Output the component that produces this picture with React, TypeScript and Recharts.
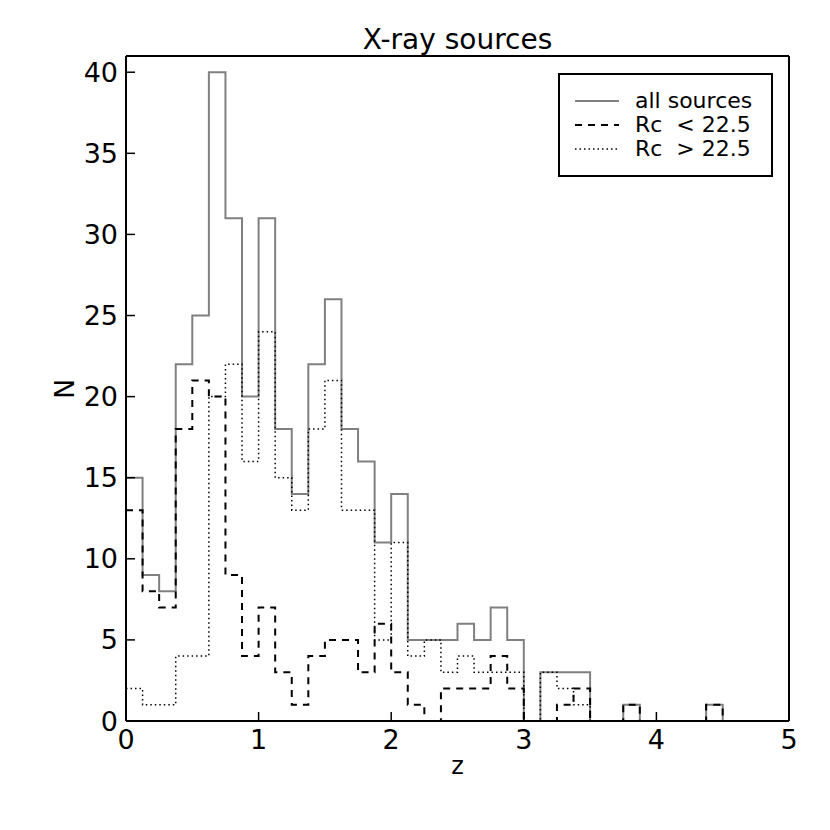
import React from "react";
import { LineChart, Line, XAxis, YAxis, Legend } from "recharts";

// bin edges of the z histogram (bin width 0.125)
const binEdges = [
  0, 0.125, 0.25, 0.375, 0.5, 0.625, 0.75, 0.875, 1, 1.125, 1.25, 1.375, 1.5, 1.625,
  1.75, 1.875, 2, 2.125, 2.25, 2.375, 2.5, 2.625, 2.75, 2.875, 3, 3.125, 3.25, 3.375,
  3.5, 3.625, 3.75, 3.875, 4, 4.125, 4.25, 4.375, 4.5, 4.625, 4.75, 4.875, 5,
];
const allSources = [
  15, 9, 8, 22, 25, 40, 31, 20, 31, 18, 14, 22, 26, 18, 16, 11, 14, 5, 5, 5, 6, 5, 7, 5,
  0, 3, 3, 3, 0, 0, 1, 0, 0, 0, 0, 1, 0, 0, 0, 0,
];
const brightSources = [
  13, 8, 7, 18, 21, 20, 9, 4, 7, 3, 1, 4, 5, 5, 3, 6, 3, 1, 0, 2, 2, 2, 4, 2, 0, 0, 1,
  2, 0, 0, 1, 0, 0, 0, 0, 1, 0, 0, 0, 0,
];
const faintSources = [
  2, 1, 1, 4, 4, 20, 22, 16, 24, 15, 13, 18, 21, 13, 13, 5, 11, 4, 5, 3, 4, 3, 3, 3, 0,
  3, 2, 1, 0, 0, 0, 0, 0, 0, 0, 0, 0, 0, 0, 0,
];
const xTicks = [0, 1, 2, 3, 4, 5];
const yTicks = [0, 5, 10, 15, 20, 25, 30, 35, 40];

const series = [
  { key: "all", name: "all sources", color: "#808080", width: 2, dash: undefined },
  { key: "bright", name: "Rc  < 22.5", color: "#000000", width: 2, dash: "7 6" },
  { key: "faint", name: "Rc  > 22.5", color: "#000000", width: 1.5, dash: "1.5 3" },
];

// step points: last edge repeats the final bin so the outline closes at z = 5
const data = binEdges.map((z, i) => {
  const b = Math.min(i, allSources.length - 1);
  return { z, all: allSources[b], bright: brightSources[b], faint: faintSources[b] };
});

const FONT = "'DejaVu Sans', sans-serif";
const tickStyle = { fontSize: 27, fill: "#000", fontFamily: FONT };
const axisLine = { stroke: "#000", strokeWidth: 2 };
const tickLine = { stroke: "#000", strokeWidth: 1.5 };

const LegendBox = () => (
  <div
    style={{
      width: 215,
      height: 104,
      boxSizing: "border-box",
      border: "2px solid #000",
      background: "#fff",
      paddingTop: 14,
      fontFamily: FONT,
      fontSize: 22,
    }}
  >
    {series.map((s) => (
      <div key={s.key} style={{ display: "flex", alignItems: "center", height: 24 }}>
        <svg width={75} height={24} style={{ flex: "none" }}>
          <line
            x1={15}
            x2={59}
            y1={12}
            y2={12}
            stroke={s.color}
            strokeWidth={s.width}
            strokeDasharray={s.dash}
          />
        </svg>
        <span style={{ lineHeight: "24px", whiteSpace: "pre" }}>{s.name}</span>
      </div>
    ))}
  </div>
);

export default function App() {
  return (
    <div style={{ position: "absolute", left: 0, top: 0, width: 830, height: 830, background: "#fff" }}>
      <LineChart
        width={830}
        height={830}
        data={data}
        margin={{ top: 46, right: 31, bottom: 79, left: 66 }}
      >
        <XAxis
          xAxisId="b"
          dataKey="z"
          type="number"
          domain={[0, 5]}
          ticks={xTicks}
          height={30}
          tickSize={-9}
          tickMargin={18}
          tick={tickStyle}
          axisLine={axisLine}
          tickLine={tickLine}
        />
        <XAxis
          xAxisId="t"
          orientation="top"
          dataKey="z"
          type="number"
          domain={[0, 5]}
          ticks={xTicks}
          height={10}
          tickSize={-9}
          tick={false}
          axisLine={axisLine}
          tickLine={tickLine}
        />
        <YAxis
          yAxisId="l"
          type="number"
          domain={[0, 41]}
          ticks={yTicks}
          width={60}
          tickSize={-9}
          tickMargin={17}
          tick={tickStyle}
          axisLine={axisLine}
          tickLine={tickLine}
        />
        <YAxis
          yAxisId="r"
          orientation="right"
          type="number"
          domain={[0, 41]}
          ticks={yTicks}
          width={10}
          tickSize={-9}
          tick={false}
          axisLine={axisLine}
          tickLine={tickLine}
        />
        {series.map((s) => (
          <Line
            key={s.key}
            xAxisId="b"
            yAxisId="l"
            type="stepAfter"
            dataKey={s.key}
            name={s.name}
            stroke={s.color}
            strokeWidth={s.width}
            strokeDasharray={s.dash}
            dot={false}
            activeDot={false}
            isAnimationActive={false}
          />
        ))}
        <Legend
          layout="vertical"
          verticalAlign="middle"
          align="center"
          content={() => <LegendBox />}
          wrapperStyle={{ top: 73, left: 558, width: 215, height: 104 }}
        />
      </LineChart>
      <div
        style={{
          position: "absolute",
          left: 126,
          width: 663,
          top: 26,
          textAlign: "center",
          fontFamily: FONT,
          fontSize: 28,
          lineHeight: "28px",
        }}
      >
        X-ray sources
      </div>
      <div
        style={{
          position: "absolute",
          left: 126,
          width: 663,
          top: 754,
          textAlign: "center",
          fontFamily: FONT,
          fontSize: 24,
          lineHeight: "24px",
        }}
      >
        z
      </div>
      <div
        style={{
          position: "absolute",
          left: 45,
          top: 374,
          width: 40,
          height: 30,
          textAlign: "center",
          fontFamily: FONT,
          fontSize: 27,
          lineHeight: "30px",
          transform: "rotate(-90deg)",
        }}
      >
        N
      </div>
    </div>
  );
}
